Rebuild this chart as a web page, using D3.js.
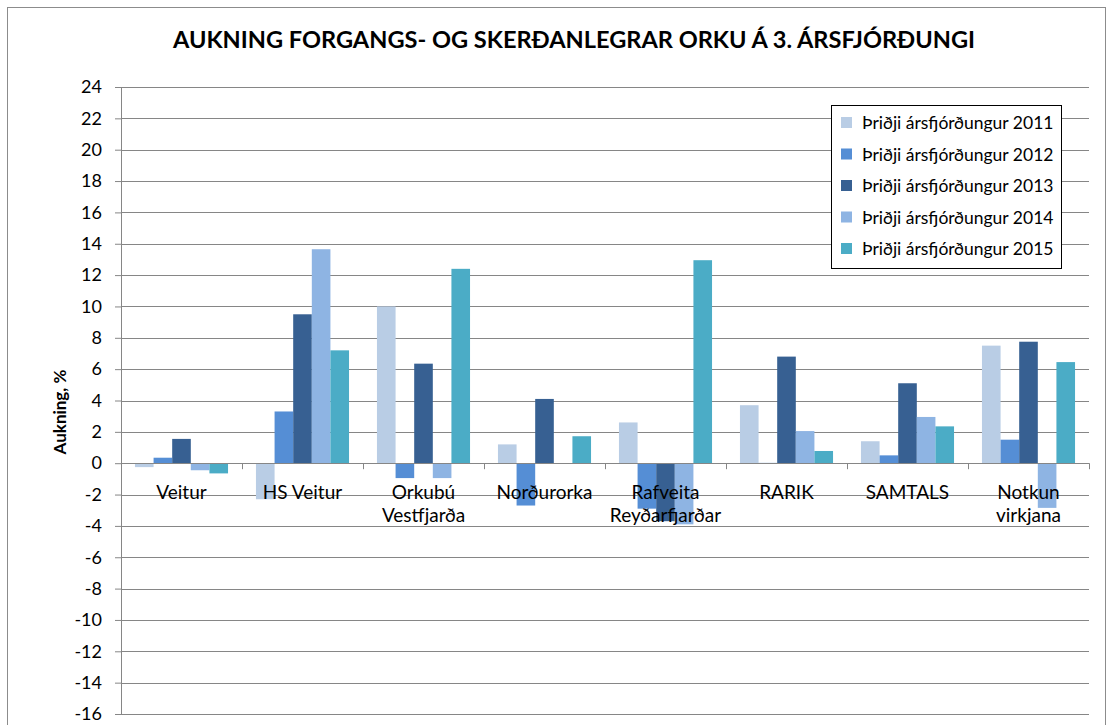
<!DOCTYPE html>
<html>
<head>
<meta charset="utf-8">
<script src="https://cdn.jsdelivr.net/npm/d3@7"></script>
<style>
  body { margin: 0; background: #fff; }
  text { font-family: Lato, "Open Sans", sans-serif; fill: #000; }
</style>
</head>
<body>
<div class="canvas"></div>
<script>
// data
const categories = ['Veitur', 'HS Veitur', 'Orkubú\nVestfjarða', 'Norðurorka',
  'Rafveita\nReyðarfjarðar', 'RARIK', 'SAMTALS', 'Notkun\nvirkjana']
const seriesNames = ['Þriðji ársfjórðungur 2011', 'Þriðji ársfjórðungur 2012',
  'Þriðji ársfjórðungur 2013', 'Þriðji ársfjórðungur 2014', 'Þriðji ársfjórðungur 2015']
const q2011 = [-0.25, -2.3, 10.0, 1.2, 2.6, 3.7, 1.4, 7.5]
const q2012 = [0.35, 3.3, -0.95, -2.7, -2.9, 0.02, 0.5, 1.5]
const q2013 = [1.55, 9.5, 6.35, 4.1, -3.7, 6.8, 5.1, 7.75]
const q2014 = [-0.45, 13.65, -0.95, 0, -3.9, 2.05, 2.95, -2.85]
const q2015 = [-0.65, 7.2, 12.4, 1.72, 12.95, 0.78, 2.35, 6.45]
const yTicks = d3.range(-16, 25, 2)

const colors = ['#b9cde5', '#558ed5', '#376092', '#8eb4e3', '#4bacc6']
const series = [q2011, q2012, q2013, q2014, q2015]

let width = 1110,
    height = 725,
    plotLeft = 121,
    plotRight = 1089,
    plotTop = 87,
    plotBottom = 714

let svg = d3.select('.canvas').append('svg')
    .attr('width', width)
    .attr('height', height)

// chart border
svg.append('rect')
    .attr('x', 7.5).attr('y', 7.5)
    .attr('width', 1098).attr('height', 740)
    .attr('fill', 'none')
    .attr('stroke', '#8c8c8c')

let y = d3.scaleLinear().domain([-16, 24]).range([plotBottom, plotTop])
let x = d3.scaleBand().domain(d3.range(categories.length)).range([plotLeft, plotRight])
    .paddingInner(0).paddingOuter(0)
// Excel gap width 150%
let barW = x.bandwidth() / 6.5

// gridlines + y axis
let yAxis = svg.append('g')
    .attr('transform', `translate(${plotLeft},0)`)
    .call(d3.axisLeft(y).tickValues(yTicks).tickSize(6).tickPadding(13)
        .tickFormat(d => String(d)))
yAxis.select('.domain').attr('stroke', '#868686')
yAxis.selectAll('.tick line').attr('stroke', '#868686')
yAxis.selectAll('.tick text')
    .style('font-size', '18px')
    .style('font-family', 'Lato, "Open Sans", sans-serif')
    .attr('fill', '#000')

svg.append('g').selectAll('line')
    .data(yTicks)
    .enter().append('line')
    .attr('x1', plotLeft).attr('x2', plotRight)
    .attr('y1', d => Math.round(y(d)) + 0.5)
    .attr('y2', d => Math.round(y(d)) + 0.5)
    .attr('stroke', '#868686')

// bars
series.forEach((vals, s) => {
    svg.append('g').selectAll('rect')
        .data(vals)
        .enter().append('rect')
        .attr('x', (d, i) => x(i) + barW * 0.75 + s * barW)
        .attr('width', barW)
        .attr('y', d => y(Math.max(0, d)))
        .attr('height', d => Math.abs(y(d) - y(0)))
        .attr('fill', colors[s])
})

// zero axis line with category ticks
svg.append('line')
    .attr('x1', plotLeft).attr('x2', plotRight)
    .attr('y1', Math.round(y(0)) + 0.5).attr('y2', Math.round(y(0)) + 0.5)
    .attr('stroke', '#868686')
svg.append('g').selectAll('line')
    .data(d3.range(categories.length + 1))
    .enter().append('line')
    .attr('x1', i => Math.round(plotLeft + i * x.step()) + 0.5)
    .attr('x2', i => Math.round(plotLeft + i * x.step()) + 0.5)
    .attr('y1', y(0)).attr('y2', y(0) + 6)
    .attr('stroke', '#868686')

// category labels
categories.forEach((c, i) => {
    let t = svg.append('text')
        .attr('text-anchor', 'middle')
        .attr('x', x(i) + x.bandwidth() / 2)
        .attr('y', 499)
        .style('font-size', '19px')
    c.split('\n').forEach((line, k) => {
        t.append('tspan')
            .attr('x', x(i) + x.bandwidth() / 2)
            .attr('dy', k === 0 ? 0 : 23)
            .text(line)
    })
})

// titles
svg.append('text')
    .attr('x', 574).attr('y', 48)
    .attr('text-anchor', 'middle')
    .attr('textLength', 802)
    .attr('lengthAdjust', 'spacingAndGlyphs')
    .style('font-size', '22px')
    .style('font-weight', 'bold')
    .text('AUKNING FORGANGS- OG SKERÐANLEGRAR ORKU Á 3. ÁRSFJÓRÐUNGI')

svg.append('text')
    .attr('transform', 'translate(66,412) rotate(-90)')
    .attr('text-anchor', 'middle')
    .style('font-size', '17px')
    .style('font-weight', 'bold')
    .text('Aukning, %')

// legend
let legend = svg.append('g')
legend.append('rect')
    .attr('x', 831.5).attr('y', 105.5)
    .attr('width', 230).attr('height', 163)
    .attr('fill', '#fff')
    .attr('stroke', '#000')
seriesNames.forEach((name, s) => {
    let ly = 123 + s * 31.5
    legend.append('rect')
        .attr('x', 841).attr('y', ly - 6)
        .attr('width', 11).attr('height', 11)
        .attr('fill', colors[s])
    legend.append('text')
        .attr('x', 862).attr('y', ly + 6)
        .style('font-size', '17.5px')
        .text(name)
})
</script>
</body>
</html>
